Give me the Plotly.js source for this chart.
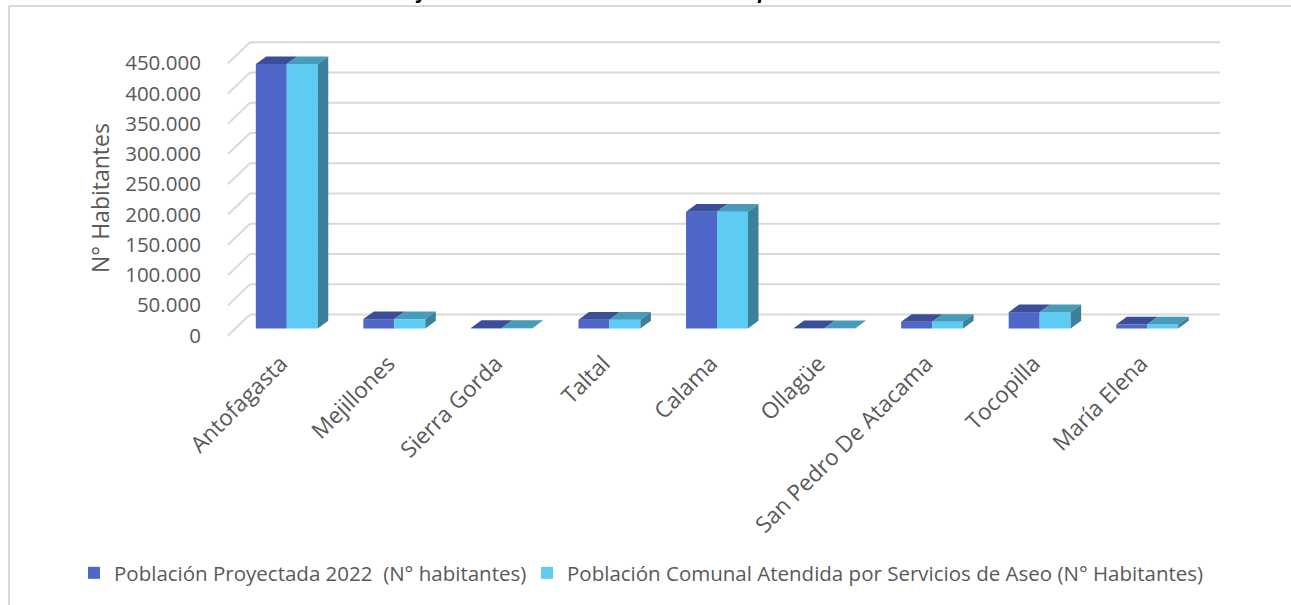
<!DOCTYPE html>
<html>
<head>
<meta charset="utf-8">
<script src="https://cdn.plot.ly/plotly-3.0.1.min.js"></script>
<style>html,body{margin:0;padding:0;background:#fff;}#chart{width:1291px;height:605px;}</style>
</head>
<body>
<div id="chart"></div>
<script>
// ---- data ----
const categories = ['Antofagasta','Mejillones','Sierra Gorda','Taltal','Calama','Ollagüe','San Pedro De Atacama','Tocopilla','María Elena'];
const poblacionProyectada = [437000, 15500, 1000, 14500, 193000, 300, 11000, 27000, 6500];
const poblacionAtendida   = [437000, 15500, 1000, 14500, 193000, 300, 11000, 27000, 6500];
const seriesNames = ['Población Proyectada 2022  (N° habitantes)', 'Población Comunal Atendida por Servicios de Aseo (N° Habitantes)'];
const tickVals = [0, 50000, 100000, 150000, 200000, 250000, 300000, 350000, 400000, 450000];
const tickText = ['0', '50.000', '100.000', '150.000', '200.000', '250.000', '300.000', '350.000', '400.000', '450.000'];
const chartTitle = 'Gráfico 9: Población Comunal Atendida por Servicios de Aseo';
const yTitle = 'N° Habitantes';

// ---- geometry / style ----
const W = 1291, H = 605;
const M = {l: 233, r: 90, t: 30, b: 260};
const plotW = W - M.l - M.r, plotH = H - M.t - M.b;
const pxPerUnit = 30.25 / 50000;            // vertical scale
const baseY = 328.5;                          // pixel of value 0 in bar plane
const yRange = [-(M.t + plotH - baseY) / pxPerUnit, (baseY - M.t) / pxPerUnit];
const frontShift = 7 / pxPerUnit;             // label plane is 7px lower
const backShift = 14 / pxPerUnit;             // back wall is 14px higher
const bw = 0.288;                             // bar width (category units)
const dx = 10.5 / (plotW / 9);                // depth offset x
const dy = 7.7 / pxPerUnit;                   // depth offset y
const gridColor = '#d9d9d9';
const cDarkFront = '#4e67c8', cDarkTop = '#3b4e9a';
const cLightFront = '#5ecbf2', cLightTop = '#479cba', cLightSide = '#3a8199';
const textColor = '#595959';
const font = 'Open Sans, sans-serif';

const idx = categories.map((_, i) => i);
const px2paperX = p => (p - M.l) / plotW;
const px2paperY = p => 1 - (p - M.t) / plotH;

// faces built from values
function topFace(vals, x0off) {
  const xs = [], ys = [];
  vals.forEach((v, i) => {
    const a = i + x0off, b = a + bw;
    xs.push(a, b, b + dx, a + dx, a, null);
    ys.push(v, v, v + dy, v + dy, v, null);
  });
  return {xs, ys};
}
function sideFace(vals, x0off) {
  const xs = [], ys = [];
  vals.forEach((v, i) => {
    const b = i + x0off + bw;
    xs.push(b, b + dx, b + dx, b, b, null);
    ys.push(0, dy, v + dy, v, 0, null);
  });
  return {xs, ys};
}
const t1 = topFace(poblacionProyectada, -bw);
const t2 = topFace(poblacionAtendida, 0);
const s2 = sideFace(poblacionAtendida, 0);

const traces = [
  {type: 'bar', name: seriesNames[0], x: idx, y: poblacionProyectada, offset: -bw, width: bw,
   marker: {color: cDarkFront, line: {width: 0}}, hoverinfo: 'skip', legend: 'legend'},
  {type: 'bar', name: seriesNames[1], x: idx, y: poblacionAtendida, offset: 0, width: bw,
   marker: {color: cLightFront, line: {width: 0}}, hoverinfo: 'skip', legend: 'legend2'},
  {type: 'scatter', mode: 'lines', x: t1.xs, y: t1.ys, fill: 'toself', fillcolor: cDarkTop,
   line: {width: 0, color: cDarkTop}, showlegend: false, hoverinfo: 'skip'},
  {type: 'scatter', mode: 'lines', x: t2.xs, y: t2.ys, fill: 'toself', fillcolor: cLightTop,
   line: {width: 0, color: cLightTop}, showlegend: false, hoverinfo: 'skip'},
  {type: 'scatter', mode: 'lines', x: s2.xs, y: s2.ys, fill: 'toself', fillcolor: cLightSide,
   line: {width: 0, color: cLightSide}, showlegend: false, hoverinfo: 'skip'},
  {type: 'scatter', mode: 'markers', x: [0], y: [0], yaxis: 'y2', marker: {opacity: 0},
   showlegend: false, hoverinfo: 'skip'}
];

const shapes = [];
tickVals.forEach(v => {
  shapes.push({type: 'line', layer: 'below', xref: 'paper', yref: 'y',
    x0: px2paperX(250), x1: px2paperX(1220), y0: v + backShift, y1: v + backShift,
    line: {color: gridColor, width: 1.8}});
  shapes.push({type: 'line', layer: 'below', xref: 'paper', yref: 'y',
    x0: px2paperX(228), x1: px2paperX(250), y0: v - frontShift, y1: v + backShift,
    line: {color: gridColor, width: 1.8}});
});
// outer frame (top and left edges)
shapes.push({type: 'line', xref: 'paper', yref: 'paper', x0: px2paperX(9), x1: px2paperX(1291),
  y0: px2paperY(6), y1: px2paperY(6), line: {color: gridColor, width: 2}});
shapes.push({type: 'line', xref: 'paper', yref: 'paper', x0: px2paperX(9), x1: px2paperX(9),
  y0: px2paperY(6), y1: px2paperY(605), line: {color: gridColor, width: 2}});

const legendStyle = (xpx) => ({orientation: 'h', x: px2paperX(xpx), xanchor: 'left',
  y: px2paperY(573), yanchor: 'middle', font: {family: font, size: 20.5, color: textColor},
  bgcolor: 'rgba(0,0,0,0)'});

const layout = {
  width: W, height: H, margin: M,
  paper_bgcolor: '#fff', plot_bgcolor: 'rgba(0,0,0,0)',
  barmode: 'overlay', separators: ',.',
  showlegend: true,
  font: {family: font, color: textColor},
  xaxis: {range: [-0.5, 8.5], tickvals: idx, ticktext: categories, tickangle: -45,
    showgrid: false, zeroline: false, showline: false, ticks: '', ticklabelshift: -6,
    tickfont: {family: font, size: 22.5, color: textColor}},
  yaxis: {range: yRange, showgrid: false, zeroline: false, showticklabels: false, showline: false},
  yaxis2: {overlaying: 'y', side: 'left', range: [yRange[0] + frontShift, yRange[1] + frontShift],
    tickvals: tickVals, ticktext: tickText, showgrid: false, zeroline: false, showline: false,
    ticks: 'outside', ticklen: 27, tickcolor: 'rgba(0,0,0,0)',
    tickfont: {family: font, size: 20.5, color: textColor}},
  legend: legendStyle(74),
  legend2: legendStyle(527),
  shapes: shapes,
  annotations: [
    {text: '<b><i>' + chartTitle + '</i></b>', xref: 'paper', yref: 'paper',
     x: px2paperX(670), y: px2paperY(6), xanchor: 'center', yanchor: 'bottom', showarrow: false,
     font: {family: font, size: 20, color: '#000'}},
    {text: yTitle, xref: 'paper', yref: 'paper', x: px2paperX(100), y: px2paperY(198),
     xanchor: 'center', yanchor: 'middle', textangle: -90, showarrow: false,
     font: {family: font, size: 23, color: textColor}}
  ]
};

Plotly.newPlot('chart', traces, layout, {displayModeBar: false, staticPlot: true});
</script>
</body>
</html>
